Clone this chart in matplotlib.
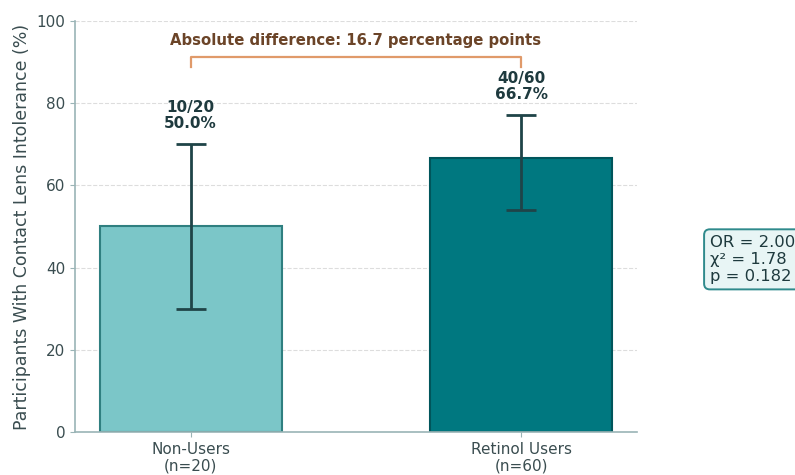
import matplotlib
matplotlib.use("Agg")
from matplotlib import pyplot as plt

# data
groups = ["Non-Users\n(n=20)", "Retinol Users\n(n=60)"]
cases = [10, 40]
totals = [20, 60]
pct = [50.0, 66.7]
ci_low = [29.9, 54.1]
ci_high = [70.1, 77.2]
diff_text = "Absolute difference: 16.7 percentage points"
stats_text = "OR = 2.00\nχ² = 1.78\np = 0.182"

bar_colors = ["#7bc6c8", "#007880"]
edge_colors = ["#2f7f80", "#00555b"]
text_dark = "#1e3a3e"
axis_col = "#9ab4b6"

fig = plt.figure(figsize=(7.95, 4.75), dpi=100)
ax = fig.add_axes([0.0943, 0.0905, 0.7067, 0.8655])

x = list(range(len(groups)))
ax.bar(x, pct, width=0.55, color=bar_colors, edgecolor=edge_colors, linewidth=1.5, zorder=2)

yerr = [[p - l for p, l in zip(pct, ci_low)], [h - p for p, h in zip(pct, ci_high)]]
ax.errorbar(x, pct, yerr=yerr, fmt="none", ecolor="#1f4448", elinewidth=2, capsize=11, capthick=2, zorder=3)

for i in x:
    ax.text(i, ci_high[i] + 3, "%d/%d\n%.1f%%" % (cases[i], totals[i], pct[i]),
            ha="center", va="bottom", fontsize=11, fontweight="bold", color=text_dark, linespacing=1.15)

# bracket
ax.plot([0, 0, 1, 1], [88.8, 91.2, 91.2, 88.8], color="#e09a6a", linewidth=1.6, zorder=3)
ax.text(0.5, 93.3, diff_text, ha="center", va="bottom", fontsize=10.7, fontweight="bold", color="#6b4428")

ax.text(1.13, 0.42, stats_text, transform=ax.transAxes, ha="left", va="center", fontsize=11.8,
        color=text_dark, linespacing=1.15,
        bbox=dict(boxstyle="round,pad=0.35", facecolor="#e8f5f5", edgecolor="#2f8a8c", linewidth=1.4))

ax.set_xlim(-0.35, 1.35)
ax.set_ylim(0, 100)
ax.set_xticks(x)
ax.set_xticklabels(groups, fontsize=11, color="#3a4d50", linespacing=1.15)
ax.set_yticks(range(0, 101, 20))
ax.tick_params(axis="y", labelsize=11, labelcolor="#3a4d50", color=axis_col)
ax.tick_params(axis="x", color=axis_col)
ax.set_ylabel("Participants With Contact Lens Intolerance (%)", fontsize=12.5, color="#3a4d50")

ax.yaxis.grid(True, linestyle="--", color="#dddddd", linewidth=0.8, zorder=0)
ax.set_axisbelow(True)
for s in ["top", "right"]:
    ax.spines[s].set_visible(False)
for s in ["left", "bottom"]:
    ax.spines[s].set_color(axis_col)
    ax.spines[s].set_linewidth(1.2)

fig.savefig("out.png", dpi=100)
